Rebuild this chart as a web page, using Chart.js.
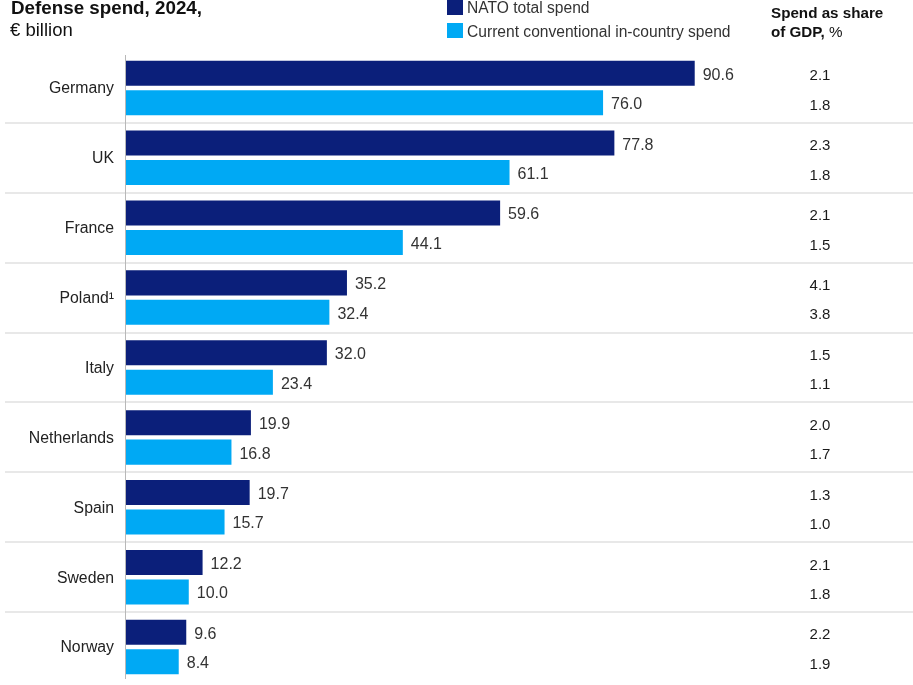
<!DOCTYPE html>
<html>
<head>
<meta charset="utf-8">
<script src="https://cdn.jsdelivr.net/npm/chart.js@4/dist/chart.umd.min.js"></script>
<style>
  html, body { margin: 0; padding: 0; background: #fff; }
  #wrap { position: relative; width: 913px; height: 685px; overflow: hidden; }
  canvas { position: absolute; left: 0; top: 0; }
</style>
</head>
<body>
<div id="wrap"><canvas id="chart" width="913" height="685"></canvas></div>
<script>
// data
const countries = ['Germany', 'UK', 'France', 'Poland¹', 'Italy', 'Netherlands', 'Spain', 'Sweden', 'Norway'];
const natoTotal = [90.6, 77.8, 59.6, 35.2, 32.0, 19.9, 19.7, 12.2, 9.6];
const inCountry = [76.0, 61.1, 44.1, 32.4, 23.4, 16.8, 15.7, 10.0, 8.4];
const gdpNato = [2.1, 2.3, 2.1, 4.1, 1.5, 2.0, 1.3, 2.1, 2.2];
const gdpInCountry = [1.8, 1.8, 1.5, 3.8, 1.1, 1.7, 1.0, 1.8, 1.9];

const seriesNames = ['NATO total spend', 'Current conventional in-country spend'];
const darkBlue = '#0b1f7a';
const lightBlue = '#00a9f4';
const FONT = '"Liberation Sans", Arial, sans-serif';

// labels, separators, header and right column
const decorPlugin = {
    id: 'decor',
    beforeDatasetsDraw(chart) {
        const ctx = chart.ctx;
        const y = chart.scales.y;
        const area = chart.chartArea;
        ctx.save();
        // row separators
        ctx.strokeStyle = '#e0e0e0';
        ctx.lineWidth = 1.5;
        for (let i = 0; i < countries.length - 1; i++) {
            const yy = Math.round((y.getPixelForValue(i) + y.getPixelForValue(i + 1)) / 2);
            ctx.beginPath();
            ctx.moveTo(5, yy);
            ctx.lineTo(913, yy);
            ctx.stroke();
        }
        // axis line
        ctx.strokeStyle = '#b8b8b8';
        ctx.lineWidth = 1;
        ctx.beginPath();
        ctx.moveTo(area.left - 0.5, area.top + 2);
        ctx.lineTo(area.left - 0.5, area.bottom - 3);
        ctx.stroke();
        ctx.restore();
    },
    afterDatasetsDraw(chart) {
        const ctx = chart.ctx;
        const y = chart.scales.y;
        ctx.save();
        ctx.textBaseline = 'middle';

        // category labels
        ctx.fillStyle = '#222';
        ctx.font = '15.8px ' + FONT;
        ctx.textAlign = 'right';
        countries.forEach((c, i) => {
            ctx.fillText(c, 114, y.getPixelForValue(i) + 1);
        });

        // value labels and GDP share column
        const gdp = [gdpNato, gdpInCountry];
        chart.data.datasets.forEach((ds, d) => {
            const meta = chart.getDatasetMeta(d);
            meta.data.forEach((bar, i) => {
                ctx.fillStyle = '#333';
                ctx.textAlign = 'left';
                ctx.font = '16px ' + FONT;
                ctx.fillText(ds.data[i].toFixed(1), bar.x + 8, bar.y + 2);
                ctx.fillStyle = '#1a1a1a';
                ctx.textAlign = 'center';
                ctx.font = '15px ' + FONT;
                ctx.fillText(gdp[d][i].toFixed(1), 820, bar.y + 3);
            });
        });

        // header
        ctx.textBaseline = 'alphabetic';
        ctx.textAlign = 'left';
        ctx.fillStyle = '#111';
        ctx.font = 'bold 18.8px ' + FONT;
        ctx.fillText('Defense spend, 2024,', 11, 14);
        ctx.font = '18.5px ' + FONT;
        ctx.fillText('€ billion', 10, 36);

        // legend
        ctx.fillStyle = darkBlue;
        ctx.fillRect(447, 0, 16, 15);
        ctx.fillStyle = lightBlue;
        ctx.fillRect(447, 23, 16, 15);
        ctx.fillStyle = '#333';
        ctx.font = '15.6px ' + FONT;
        ctx.fillText(seriesNames[0], 467, 13);
        ctx.fillText(seriesNames[1], 467, 37);

        // right column header
        ctx.fillStyle = '#111';
        ctx.font = 'bold 15.2px ' + FONT;
        ctx.fillText('Spend as share', 771, 18);
        const part = 'of GDP,';
        ctx.fillText(part, 771, 37);
        const w = ctx.measureText(part + ' ').width;
        ctx.font = '15.2px ' + FONT;
        ctx.fillText('%', 771 + w, 37);
        ctx.restore();
    }
};

new Chart(document.getElementById('chart'), {
    type: 'bar',
    data: {
        labels: countries,
        datasets: [
            { label: seriesNames[0], data: natoTotal, backgroundColor: darkBlue },
            { label: seriesNames[1], data: inCountry, backgroundColor: lightBlue }
        ]
    },
    options: {
        indexAxis: 'y',
        responsive: false,
        animation: false,
        devicePixelRatio: 1,
        categoryPercentage: 0.843,
        barPercentage: 0.85,
        layout: { padding: { left: 126, right: 153, top: 53, bottom: 3 } },
        plugins: { legend: { display: false }, tooltip: { enabled: false } },
        scales: {
            x: { display: false, min: 0, max: 101 },
            y: { display: false }
        }
    },
    plugins: [decorPlugin]
});
</script>
</body>
</html>
